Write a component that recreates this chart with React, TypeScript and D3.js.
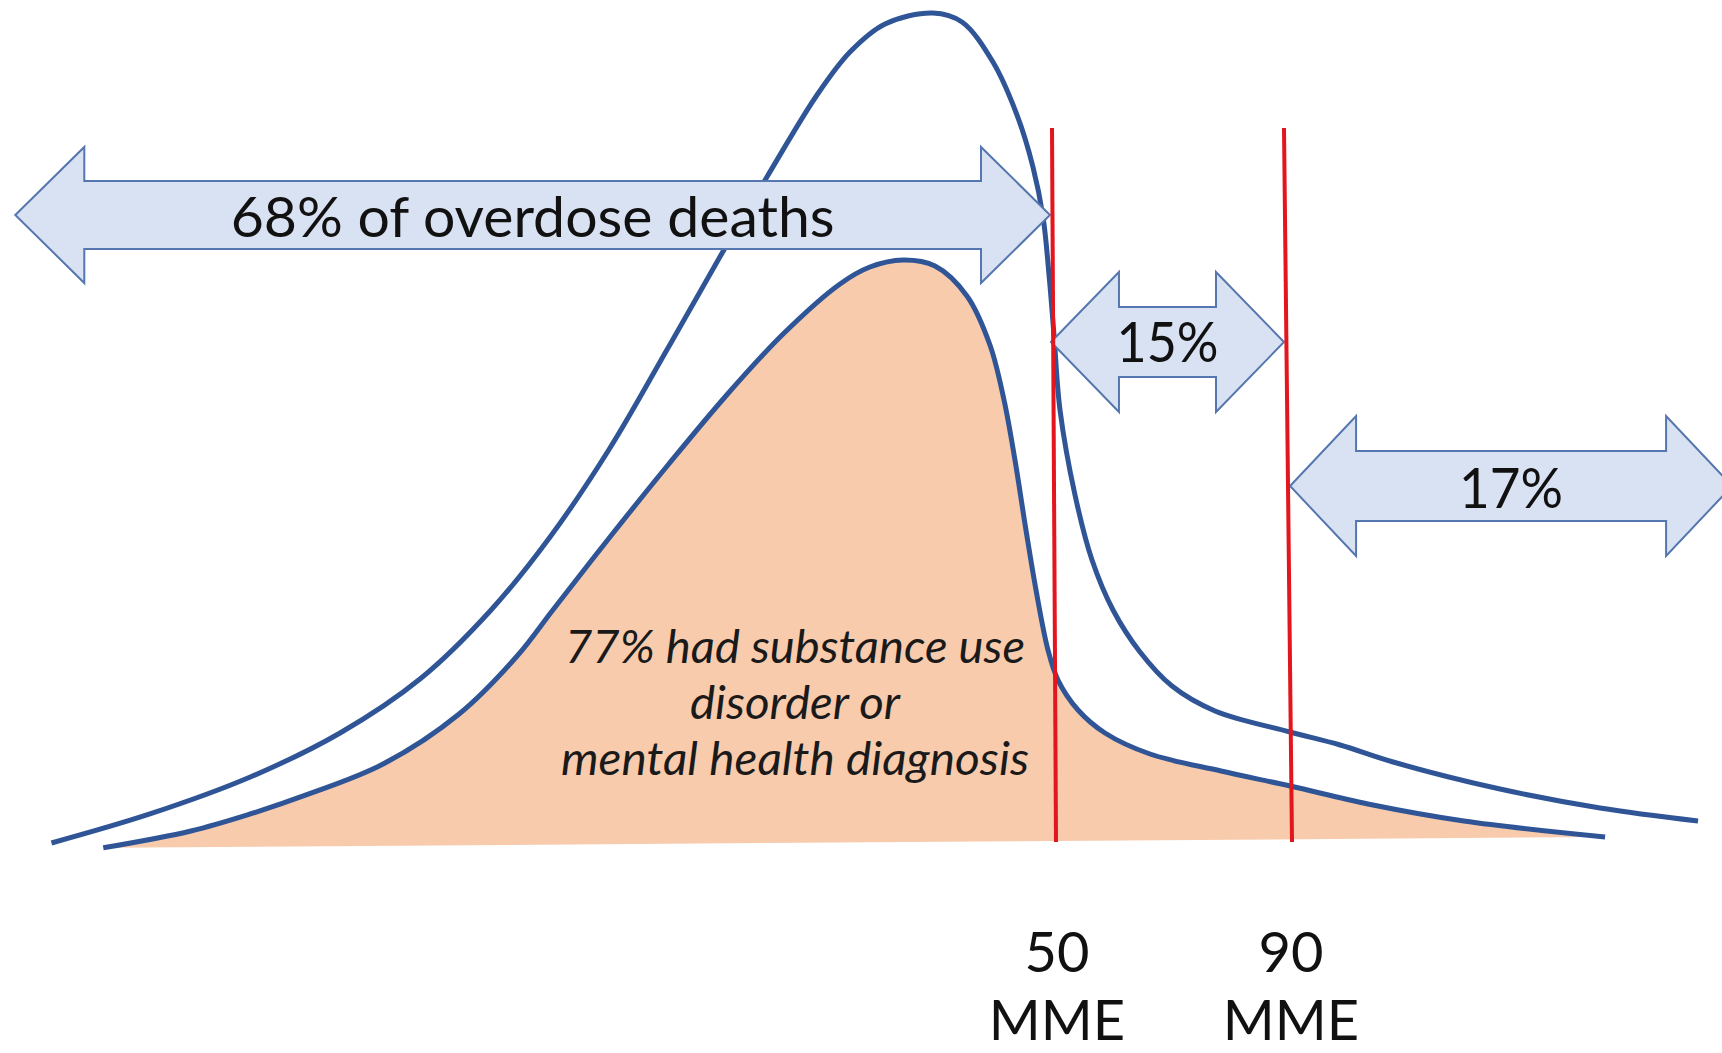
import React from "react";
import * as d3 from "d3";

// Thresholds (MME) and their labels
const thresholdsMME = [50, 90];
const thresholdLabels = ["50", "90"];
const thresholdUnit = "MME";

// Outer curve: all overdose deaths (MME on log axis, relative frequency 0-100)
const allDeathsMME = [4.03, 5.16, 6.64, 8.32, 10.17, 12.13, 14.1, 16.39, 18.96, 21.66, 24.31, 27.57, 29.95, 32.71, 36.89, 39.68, 42.89, 45.56, 47.43, 48.64, 49.38, 50.0, 50.76, 52.71, 55.01, 57.99, 62.06, 67.25, 74.92, 90.47, 102.6, 117.2, 153.3, 197.1, 252.1];
const allDeathsFreq = [0.48, 3.96, 8.39, 13.67, 20.14, 28.3, 37.17, 47.84, 59.83, 70.98, 80.34, 90.17, 95.32, 98.68, 100, 98.92, 94.12, 87.77, 81.53, 75.54, 68.59, 61.39, 52.4, 42.21, 34.41, 28.42, 23.38, 19.3, 16.31, 13.79, 12.23, 10.19, 6.95, 4.68, 3.12];

// Inner (filled) curve: deaths with substance use disorder or mental health diagnosis
const diagnosedMME = [4.59, 5.72, 6.64, 7.64, 9.27, 11.22, 12.98, 14.2, 16.39, 18.96, 21.88, 25.32, 29.21, 31.49, 34.22, 37.08, 40.18, 42.57, 44.1, 45.33, 46.6, 47.79, 49.25, 50.5, 53.11, 56.83, 63.64, 76.06, 90.47, 110.0, 140.0, 199.6];
const diagnosedFreq = [-0.1, 1.92, 3.96, 6.24, 9.95, 15.95, 22.9, 28.42, 37.17, 45.8, 53.96, 61.51, 67.51, 69.54, 70.38, 69.66, 66.07, 60.19, 53.6, 46.4, 38.01, 30.82, 23.62, 20.02, 16.43, 13.67, 11.15, 9.11, 7.31, 5.16, 3.12, 1.2];

// Double-headed arrows spanning MME ranges
const arrowLabels = ["68% of overdose deaths", "15%", "17%"];
const arrowStartMME = [3.68, 49.62, 90.47];
const arrowEndMME = [49.5, 89.1, 274.6];

// Note inside the filled area
const noteLines = ["77% had substance use", "disorder or", "mental health diagnosis"];

const W = 1722;
const H = 1053;

const BLUE = "#2F5597";
const PEACH = "#F8CBAD";
const RED = "#E3151D";
const ARROW_FILL = "#D9E2F2";
const ARROW_STROKE = "#5576AE";
const FONT = "Lato, 'Open Sans', sans-serif";

// layout (pixel) settings for arrows and texts
const arrowLayout = [
  { cy: 215, hh: 68, sh: 34, hl: 69, fs: 57, tl: 604, dy: 22 },
  { cy: 342, hh: 70, sh: 35, hl: 68, fs: 57, tl: 102, dy: 20 },
  { cy: 486, hh: 70, sh: 35, hl: 66, fs: 57, tl: 104, dy: 22 },
];
const noteLayout = { cx: 795, y0: 663, step: 56, fs: 46, tl: [460, 210, 468] };
const lineTilt = [2, 4];

function arrowPath(x0: number, x1: number, cy: number, hh: number, sh: number, hl: number) {
  const p = d3.path();
  p.moveTo(x0, cy);
  p.lineTo(x0 + hl, cy - hh);
  p.lineTo(x0 + hl, cy - sh);
  p.lineTo(x1 - hl, cy - sh);
  p.lineTo(x1 - hl, cy - hh);
  p.lineTo(x1, cy);
  p.lineTo(x1 - hl, cy + hh);
  p.lineTo(x1 - hl, cy + sh);
  p.lineTo(x0 + hl, cy + sh);
  p.lineTo(x0 + hl, cy + hh);
  p.closePath();
  return p.toString();
}

export default function App() {
  const x = d3.scaleLog().domain([50, 90]).range([1054, 1288]);
  const y = d3.scaleLinear().domain([0, 100]).range([847, 13]);

  const allPts = allDeathsMME.map((m, i) => [m, allDeathsFreq[i]] as [number, number]);
  const diagPts = diagnosedMME.map((m, i) => [m, diagnosedFreq[i]] as [number, number]);

  const line = d3
    .line<[number, number]>()
    .x((d) => x(d[0]))
    .y((d) => y(d[1]))
    .curve(d3.curveCatmullRom.alpha(0.5));

  const outerPath = line(allPts) || "";
  const innerPath = line(diagPts) || "";

  const yTop = 128;
  const yBottom = 842;

  return (
    <svg
      width={W}
      height={H}
      viewBox={`0 0 ${W} ${H}`}
      style={{ position: "absolute", left: 0, top: 0, background: "#fff" }}
    >
      <rect x={0} y={0} width={W} height={H} fill="#fff" />
      {/* filled inner distribution */}
      <path d={innerPath + "Z"} fill={PEACH} stroke="none" />
      <path d={innerPath} fill="none" stroke={BLUE} strokeWidth={5} />
      {/* outer distribution */}
      <path d={outerPath} fill="none" stroke={BLUE} strokeWidth={5} />

      {/* note text */}
      {noteLines.map((t, i) => (
        <text
          key={t}
          x={noteLayout.cx}
          y={noteLayout.y0 + i * noteLayout.step}
          textAnchor="middle"
          fontFamily={FONT}
          fontStyle="italic"
          fontSize={noteLayout.fs}
          fill="#1a1a1a"
          textLength={noteLayout.tl[i]}
          lengthAdjust="spacingAndGlyphs"
        >
          {t}
        </text>
      ))}

      {/* arrows */}
      {arrowLabels.map((lab, i) => {
        const L = arrowLayout[i];
        const x0 = x(arrowStartMME[i]);
        const x1 = x(arrowEndMME[i]);
        return (
          <g key={lab}>
            <path
              d={arrowPath(x0, x1, L.cy, L.hh, L.sh, L.hl)}
              fill={ARROW_FILL}
              stroke={ARROW_STROKE}
              strokeWidth={2}
            />
            <text
              x={(x0 + x1) / 2}
              y={L.cy + L.dy}
              textAnchor="middle"
              fontFamily={FONT}
              fontSize={L.fs}
              fill="#111"
              textLength={L.tl}
              lengthAdjust="spacingAndGlyphs"
            >
              {lab}
            </text>
          </g>
        );
      })}

      {/* threshold lines */}
      {thresholdsMME.map((t, i) => (
        <line
          key={"l" + t}
          x1={x(t) - lineTilt[i]}
          x2={x(t) + lineTilt[i]}
          y1={yTop}
          y2={yBottom}
          stroke={RED}
          strokeWidth={4}
        />
      ))}

      {/* threshold labels */}
      {thresholdsMME.map((t, i) => (
        <g key={"t" + t}>
          <text
            x={x(t) + 3}
            y={972}
            textAnchor="middle"
            fontFamily={FONT}
            fontSize={56}
            fill="#111"
          >
            {thresholdLabels[i]}
          </text>
          <text
            x={x(t) + 3}
            y={1040}
            textAnchor="middle"
            fontFamily={FONT}
            fontSize={56}
            fill="#111"
          >
            {thresholdUnit}
          </text>
        </g>
      ))}
    </svg>
  );
}
